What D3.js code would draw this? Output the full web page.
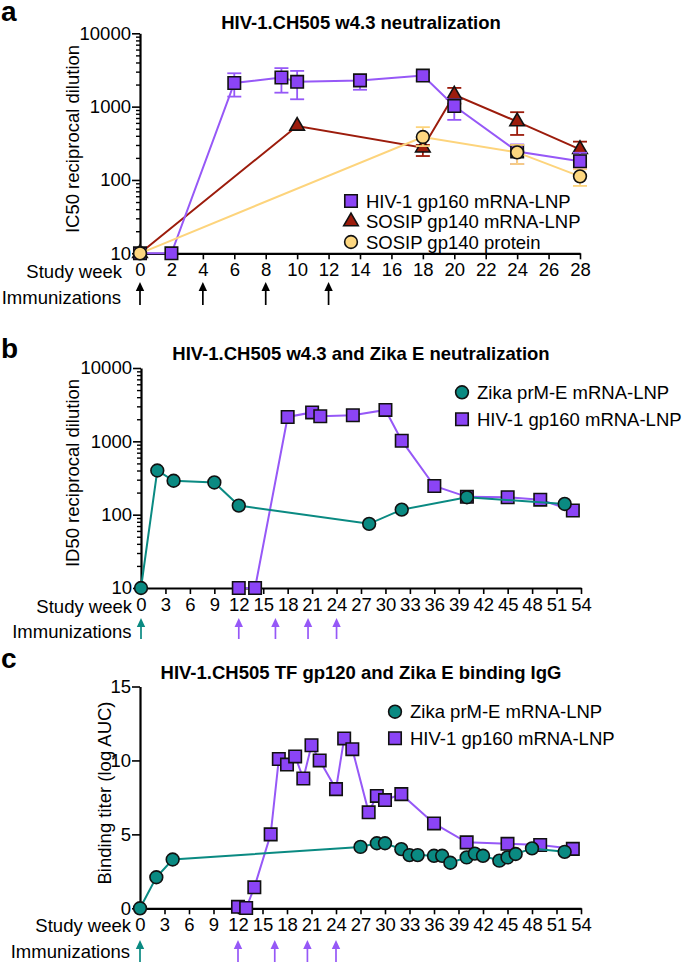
<!DOCTYPE html>
<html><head><meta charset="utf-8">
<script src="https://cdn.jsdelivr.net/npm/d3@7"></script>
<style>
body{margin:0;background:#fff;}
svg{display:block;font-family:"Liberation Sans",Arial,Helvetica,sans-serif;}
</style></head><body>
<svg id="chart" width="685" height="962"></svg>
<script>
// ---------------- DATA ----------------
// Panel a: HIV-1.CH505 w4.3 neutralization (IC50), weeks 0-28
const aTicks = [0,2,4,6,8,10,12,14,16,18,20,22,24,26,28];
const aImmunizations = [0,4,8,12];
const aGp160 = [
  {w:0,v:10},{w:2,v:10},
  {w:6,v:2100,lo:1370,hi:2850},{w:9,v:2500,lo:1550,hi:3350},{w:10,v:2180,lo:1260,hi:3070},
  {w:14,v:2280,lo:1700,hi:2600},{w:18,v:2650,lo:2250,hi:2950},{w:20,v:1020,lo:660,hi:1250},
  {w:24,v:245,lo:165,hi:305},{w:28,v:180,lo:145,hi:235}
];
const aSosipMrna = [
  {w:0,v:10},{w:10,v:545},{w:18,v:275,lo:212,hi:300},{w:20,v:1450,lo:1100,hi:1800},
  {w:24,v:625,lo:411,hi:840},{w:28,v:262,lo:200,hi:333}
];
const aSosipProtein = [
  {w:0,v:10},{w:18,v:385,lo:290,hi:525},{w:24,v:238,lo:165,hi:300},{w:28,v:112,lo:83,hi:140}
];
const logTicks = [10,100,1000,10000];

// Panel b: HIV-1.CH505 w4.3 and Zika E neutralization (ID50), weeks 0-54
const bcTicks = [0,3,6,9,12,15,18,21,24,27,30,33,36,39,42,45,48,51,54];
const zikaImmunizations = [0];
const gp160Immunizations = [12,16.5,20.5,24];
const bZika = [
  {w:0,v:10},{w:2,v:400},{w:4,v:290},{w:9,v:275},{w:12,v:133},
  {w:28,v:75},{w:32,v:117},{w:40,v:173},{w:52,v:140}
];
const bGp160 = [
  {w:12,v:10},{w:14,v:10},{w:18,v:2150},{w:21,v:2480},{w:22,v:2200},{w:26,v:2270},
  {w:30,v:2680},{w:32,v:1020},{w:36,v:246},{w:40,v:175},{w:45,v:173},{w:49,v:160},{w:53,v:114}
];

// Panel c: HIV-1.CH505 TF gp120 and Zika E binding IgG (log AUC)
const cYTicks = [0,5,10,15];
const cZika = [
  {w:0,v:0},{w:2,v:2.1},{w:4,v:3.3},{w:27,v:4.15},{w:29,v:4.4},{w:30,v:4.4},
  {w:32,v:4.0},{w:33,v:3.6},{w:34,v:3.6},{w:36,v:3.55},{w:37,v:3.55},{w:38,v:3.08},
  {w:40,v:3.44},{w:41,v:3.7},{w:42,v:3.55},{w:44,v:3.22},{w:45,v:3.44},{w:46,v:3.67},
  {w:48,v:4.05},{w:52,v:3.82}
];
const cGp160 = [
  {w:12,v:0.1},{w:13,v:0.02},{w:14,v:1.42},{w:16,v:5.0},{w:17,v:10.1},{w:18,v:9.72},
  {w:19,v:10.27},{w:20,v:8.78},{w:21,v:11.03},{w:22,v:10.0},{w:24,v:8.06},{w:25,v:11.49},
  {w:26,v:10.76},{w:28,v:6.49},{w:29,v:7.6},{w:30,v:7.32},{w:32,v:7.72},{w:36,v:5.74},
  {w:40,v:4.46},{w:45,v:4.36},{w:49,v:4.28},{w:53,v:4.02}
];

// ---------------- STYLE ----------------
const PURPLE = "#8b44f6", PURPLE_LINE = "#9658f7";
const DARKRED = "#9c1c0c";
const YELLOW = "#fdd780", YELLOW_LINE = "#fdd47c";
const TEAL = "#0a8a82";
const FS = 18.5;

const svg = d3.select("#chart");

function logMinor(dom){
  const out=[];
  for(let d=dom[0]; d<dom[1]; d*=10) for(let k=2;k<=9;k++) out.push(d*k);
  return out;
}

function axes(g, x, y, xTicks, yMajor, yMinor, yFmt){
  if (yMinor){
    const m = g.append("g").attr("transform",`translate(${x.range()[0]},0)`)
      .call(d3.axisLeft(y).tickValues(yMinor).tickSize(4).tickSizeOuter(0).tickFormat(""));
    m.select(".domain").remove();
    m.selectAll("line").attr("stroke","#000").attr("stroke-width",1.4);
  }
  const ya = g.append("g").attr("transform",`translate(${x.range()[0]},0)`)
    .call(d3.axisLeft(y).tickValues(yMajor).tickSize(8).tickSizeOuter(0).tickPadding(1).tickFormat(yFmt));
  ya.select(".domain").attr("stroke","#000").attr("stroke-width",2.2);
  ya.selectAll("line").attr("stroke","#000").attr("stroke-width",1.6);
  ya.selectAll("text").attr("font-size",FS).attr("fill","#000").attr("font-family",null);
  const y0 = y.range()[0];
  const xa = g.append("g").attr("transform",`translate(0,${y0})`)
    .call(d3.axisBottom(x).tickValues(xTicks).tickSize(6).tickSizeOuter(0).tickPadding(4).tickFormat(d3.format("d")));
  xa.select(".domain").attr("stroke","#000").attr("stroke-width",2.2);
  xa.selectAll("line").attr("stroke","#000").attr("stroke-width",1.6);
  xa.selectAll("text").attr("font-size",FS).attr("fill","#000").attr("font-family",null);
}

function symbolPath(shape){
  if(shape==="square") return d3.symbol().type(d3.symbolSquare).size(155)();
  if(shape==="triangle") return d3.symbol().type(d3.symbolTriangle).size(92)();
  return d3.symbol().type(d3.symbolCircle).size(128)();
}

function series(g, x, y, data, color, lineColor, shape){
  g.append("path").datum(data)
    .attr("d", d3.line().x(d=>x(d.w)).y(d=>y(d.v)))
    .attr("fill","none").attr("stroke",lineColor).attr("stroke-width",2);
  const eb = data.filter(d=>d.lo!==undefined);
  const e = g.append("g").attr("stroke",lineColor).attr("stroke-width",1.8);
  eb.forEach(d=>{
    const cx=x(d.w);
    e.append("line").attr("x1",cx).attr("x2",cx).attr("y1",y(d.lo)).attr("y2",y(d.hi));
    e.append("line").attr("x1",cx-7).attr("x2",cx+7).attr("y1",y(d.lo)).attr("y2",y(d.lo));
    e.append("line").attr("x1",cx-7).attr("x2",cx+7).attr("y1",y(d.hi)).attr("y2",y(d.hi));
  });
  g.append("g").selectAll("path").data(data).join("path")
    .attr("transform",d=>`translate(${x(d.w)},${y(d.v)})`)
    .attr("d", symbolPath(shape))
    .attr("fill",color).attr("stroke","#111").attr("stroke-width",1.6);
}

function legend(g, items, x, y0, dy){
  items.forEach((it,i)=>{
    const cy = y0 + i*dy;
    g.append("path").attr("transform",`translate(${x},${cy})`).attr("d",symbolPath(it.shape))
      .attr("fill",it.color).attr("stroke","#111").attr("stroke-width",1.6);
    g.append("text").attr("x",x+15).attr("y",cy).attr("dy","0.36em")
      .attr("font-size",FS).text(it.label);
  });
}

function arrows(g, x, weeks, color, yTop, yBot){
  weeks.forEach(w=>{
    const cx = x(w);
    g.append("line").attr("x1",cx).attr("x2",cx).attr("y1",yTop+6).attr("y2",yBot)
      .attr("stroke",color).attr("stroke-width",1.7);
    g.append("path").attr("d",`M${cx},${yTop} L${cx-4.2},${yTop+9} L${cx+4.2},${yTop+9} Z`).attr("fill",color);
  });
}

function labels(g, letter, letterY, title, titleY, ylab, ylabX, ylabY, swEnd, swY, imEnd, imY){
  g.append("text").attr("x",1).attr("y",letterY).attr("font-size",28).attr("font-weight","bold").text(letter);
  g.append("text").attr("x",361).attr("y",titleY).attr("text-anchor","middle")
    .attr("font-size",18.5).attr("font-weight","bold").text(title);
  g.append("text").attr("transform",`translate(${ylabX},${ylabY}) rotate(-90)`)
    .attr("text-anchor","middle").attr("font-size",FS).text(ylab);
  g.append("text").attr("x",swEnd).attr("y",swY).attr("text-anchor","end").attr("font-size",FS).text("Study week");
  g.append("text").attr("x",imEnd).attr("y",imY).attr("text-anchor","end").attr("font-size",FS).text("Immunizations");
}

// ---------------- PANEL A ----------------
{
  const g = svg.append("g");
  const x = d3.scaleLinear([0,28],[140,580]);
  const y = d3.scaleLog([10,10000],[253.3,33.3]);
  axes(g, x, y, aTicks, logTicks, logMinor([10,10000]), d3.format("d"));
  series(g, x, y, aSosipMrna, DARKRED, DARKRED, "triangle");
  series(g, x, y, aGp160, PURPLE, PURPLE_LINE, "square");
  series(g, x, y, aSosipProtein, YELLOW, YELLOW_LINE, "circle");
  legend(g, [
    {shape:"square",color:PURPLE,label:"HIV-1 gp160 mRNA-LNP"},
    {shape:"triangle",color:DARKRED,label:"SOSIP gp140 mRNA-LNP"},
    {shape:"circle",color:YELLOW,label:"SOSIP gp140 protein"}
  ], 351, 201, 20.5);
  arrows(g, x, aImmunizations, "#000", 282, 305);
  labels(g, "a", 21, "HIV-1.CH505 w4.3 neutralization", 28.5,
    "IC50 reciprocal dilution", 79, 139, 122, 277.5, 121, 303.5);
}

// ---------------- PANEL B ----------------
{
  const g = svg.append("g");
  const x = d3.scaleLinear([0,54],[141,581]);
  const y = d3.scaleLog([10,10000],[588,368]);
  axes(g, x, y, bcTicks, logTicks, logMinor([10,10000]), d3.format("d"));
  series(g, x, y, bGp160, PURPLE, PURPLE_LINE, "square");
  series(g, x, y, bZika, TEAL, TEAL, "circle");
  legend(g, [
    {shape:"circle",color:TEAL,label:"Zika prM-E mRNA-LNP"},
    {shape:"square",color:PURPLE,label:"HIV-1 gp160 mRNA-LNP"}
  ], 462, 392.3, 27);
  arrows(g, x, zikaImmunizations, TEAL, 618, 639);
  arrows(g, x, gp160Immunizations, PURPLE_LINE, 618, 639);
  labels(g, "b", 358, "HIV-1.CH505 w4.3 and Zika E neutralization", 359.5,
    "ID50 reciprocal dilution", 79, 473, 132, 612.5, 131.5, 638);
}

// ---------------- PANEL C ----------------
{
  const g = svg.append("g");
  const x = d3.scaleLinear([0,54],[140,581]);
  const y = d3.scaleLinear([0,15],[908.3,686.5]);
  axes(g, x, y, bcTicks, cYTicks, null, d3.format("d"));
  series(g, x, y, cGp160, PURPLE, PURPLE_LINE, "square");
  series(g, x, y, cZika, TEAL, TEAL, "circle");
  legend(g, [
    {shape:"circle",color:TEAL,label:"Zika prM-E mRNA-LNP"},
    {shape:"square",color:PURPLE,label:"HIV-1 gp160 mRNA-LNP"}
  ], 395, 711.7, 26.6);
  arrows(g, x, zikaImmunizations, TEAL, 940, 962);
  arrows(g, x, gp160Immunizations, PURPLE_LINE, 940, 962);
  labels(g, "c", 668, "HIV-1.CH505 TF gp120 and Zika E binding IgG", 679,
    "Binding titer (log AUC)", 111, 793, 131, 932, 130, 958);
}
</script>
</body></html>
